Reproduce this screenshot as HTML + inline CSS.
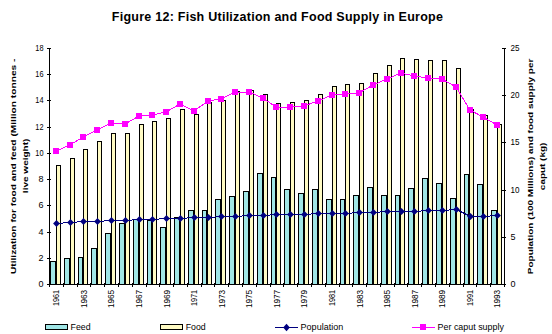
<!DOCTYPE html>
<html><head><meta charset="utf-8"><style>
html,body{margin:0;padding:0;background:#fff;width:552px;height:334px;overflow:hidden}
svg{display:block;font-family:"Liberation Sans",sans-serif}
.ax text{font-size:9px;fill:#000}
.lg{font-size:8.2px;fill:#000}
.tt{font-size:8px;font-weight:bold;fill:#000}
</style></head><body>
<svg width="552" height="334" viewBox="0 0 552 334">
<text x="277.5" y="21" text-anchor="middle" style="font-size:12.5px;font-weight:bold;letter-spacing:0.25px">Figure 12: Fish Utilization and Food Supply in Europe</text>
<g shape-rendering="crispEdges">
<rect x="50.5" y="261.5" width="5" height="23" fill="#A0E6E6" stroke="#000"/><rect x="56.5" y="165.5" width="4" height="119" fill="#FFFBC4" stroke="#000"/><rect x="64.5" y="258.5" width="5" height="26" fill="#A0E6E6" stroke="#000"/><rect x="70.5" y="158.5" width="4" height="126" fill="#FFFBC4" stroke="#000"/><rect x="78.5" y="257.5" width="4" height="27" fill="#A0E6E6" stroke="#000"/><rect x="83.5" y="149.5" width="4" height="135" fill="#FFFBC4" stroke="#000"/><rect x="91.5" y="248.5" width="5" height="36" fill="#A0E6E6" stroke="#000"/><rect x="97.5" y="141.5" width="4" height="143" fill="#FFFBC4" stroke="#000"/><rect x="105.5" y="233.5" width="5" height="51" fill="#A0E6E6" stroke="#000"/><rect x="111.5" y="133.5" width="4" height="151" fill="#FFFBC4" stroke="#000"/><rect x="119.5" y="223.5" width="5" height="61" fill="#A0E6E6" stroke="#000"/><rect x="125.5" y="133.5" width="4" height="151" fill="#FFFBC4" stroke="#000"/><rect x="133.5" y="219.5" width="5" height="65" fill="#A0E6E6" stroke="#000"/><rect x="139.5" y="124.5" width="4" height="160" fill="#FFFBC4" stroke="#000"/><rect x="147.5" y="220.5" width="4" height="64" fill="#A0E6E6" stroke="#000"/><rect x="152.5" y="121.5" width="4" height="163" fill="#FFFBC4" stroke="#000"/><rect x="160.5" y="227.5" width="5" height="57" fill="#A0E6E6" stroke="#000"/><rect x="166.5" y="118.5" width="4" height="166" fill="#FFFBC4" stroke="#000"/><rect x="174.5" y="217.5" width="5" height="67" fill="#A0E6E6" stroke="#000"/><rect x="180.5" y="109.5" width="4" height="175" fill="#FFFBC4" stroke="#000"/><rect x="188.5" y="210.5" width="5" height="74" fill="#A0E6E6" stroke="#000"/><rect x="194.5" y="114.5" width="4" height="170" fill="#FFFBC4" stroke="#000"/><rect x="202.5" y="210.5" width="4" height="74" fill="#A0E6E6" stroke="#000"/><rect x="207.5" y="102.5" width="4" height="182" fill="#FFFBC4" stroke="#000"/><rect x="215.5" y="199.5" width="5" height="85" fill="#A0E6E6" stroke="#000"/><rect x="221.5" y="100.5" width="4" height="184" fill="#FFFBC4" stroke="#000"/><rect x="229.5" y="196.5" width="5" height="88" fill="#A0E6E6" stroke="#000"/><rect x="235.5" y="91.5" width="4" height="193" fill="#FFFBC4" stroke="#000"/><rect x="243.5" y="191.5" width="5" height="93" fill="#A0E6E6" stroke="#000"/><rect x="249.5" y="90.5" width="4" height="194" fill="#FFFBC4" stroke="#000"/><rect x="257.5" y="173.5" width="5" height="111" fill="#A0E6E6" stroke="#000"/><rect x="263.5" y="94.5" width="4" height="190" fill="#FFFBC4" stroke="#000"/><rect x="271.5" y="177.5" width="4" height="107" fill="#A0E6E6" stroke="#000"/><rect x="276.5" y="103.5" width="4" height="181" fill="#FFFBC4" stroke="#000"/><rect x="284.5" y="189.5" width="5" height="95" fill="#A0E6E6" stroke="#000"/><rect x="290.5" y="102.5" width="4" height="182" fill="#FFFBC4" stroke="#000"/><rect x="298.5" y="193.5" width="5" height="91" fill="#A0E6E6" stroke="#000"/><rect x="304.5" y="100.5" width="4" height="184" fill="#FFFBC4" stroke="#000"/><rect x="312.5" y="189.5" width="5" height="95" fill="#A0E6E6" stroke="#000"/><rect x="318.5" y="94.5" width="4" height="190" fill="#FFFBC4" stroke="#000"/><rect x="326.5" y="199.5" width="5" height="85" fill="#A0E6E6" stroke="#000"/><rect x="332.5" y="86.5" width="4" height="198" fill="#FFFBC4" stroke="#000"/><rect x="340.5" y="199.5" width="4" height="85" fill="#A0E6E6" stroke="#000"/><rect x="345.5" y="84.5" width="4" height="200" fill="#FFFBC4" stroke="#000"/><rect x="353.5" y="195.5" width="5" height="89" fill="#A0E6E6" stroke="#000"/><rect x="359.5" y="83.5" width="4" height="201" fill="#FFFBC4" stroke="#000"/><rect x="367.5" y="187.5" width="5" height="97" fill="#A0E6E6" stroke="#000"/><rect x="373.5" y="73.5" width="4" height="211" fill="#FFFBC4" stroke="#000"/><rect x="381.5" y="195.5" width="5" height="89" fill="#A0E6E6" stroke="#000"/><rect x="387.5" y="65.5" width="4" height="219" fill="#FFFBC4" stroke="#000"/><rect x="395.5" y="195.5" width="4" height="89" fill="#A0E6E6" stroke="#000"/><rect x="400.5" y="58.5" width="4" height="226" fill="#FFFBC4" stroke="#000"/><rect x="408.5" y="188.5" width="5" height="96" fill="#A0E6E6" stroke="#000"/><rect x="414.5" y="59.5" width="4" height="225" fill="#FFFBC4" stroke="#000"/><rect x="422.5" y="178.5" width="5" height="106" fill="#A0E6E6" stroke="#000"/><rect x="428.5" y="60.5" width="4" height="224" fill="#FFFBC4" stroke="#000"/><rect x="436.5" y="183.5" width="5" height="101" fill="#A0E6E6" stroke="#000"/><rect x="442.5" y="60.5" width="4" height="224" fill="#FFFBC4" stroke="#000"/><rect x="450.5" y="198.5" width="5" height="86" fill="#A0E6E6" stroke="#000"/><rect x="456.5" y="68.5" width="4" height="216" fill="#FFFBC4" stroke="#000"/><rect x="464.5" y="174.5" width="4" height="110" fill="#A0E6E6" stroke="#000"/><rect x="469.5" y="109.5" width="4" height="175" fill="#FFFBC4" stroke="#000"/><rect x="477.5" y="184.5" width="5" height="100" fill="#A0E6E6" stroke="#000"/><rect x="483.5" y="115.5" width="4" height="169" fill="#FFFBC4" stroke="#000"/><rect x="491.5" y="210.5" width="5" height="74" fill="#A0E6E6" stroke="#000"/><rect x="497.5" y="124.5" width="4" height="160" fill="#FFFBC4" stroke="#000"/>
<line x1="49.5" y1="48" x2="49.5" y2="285" stroke="#000"/><line x1="504.5" y1="48" x2="504.5" y2="285" stroke="#000"/><line x1="49.0" y1="284.5" x2="505" y2="284.5" stroke="#000"/><line x1="47" y1="284.5" x2="51" y2="284.5" stroke="#000"/><line x1="47" y1="258.5" x2="51" y2="258.5" stroke="#000"/><line x1="47" y1="232.5" x2="51" y2="232.5" stroke="#000"/><line x1="47" y1="205.5" x2="51" y2="205.5" stroke="#000"/><line x1="47" y1="179.5" x2="51" y2="179.5" stroke="#000"/><line x1="47" y1="153.5" x2="51" y2="153.5" stroke="#000"/><line x1="47" y1="127.5" x2="51" y2="127.5" stroke="#000"/><line x1="47" y1="100.5" x2="51" y2="100.5" stroke="#000"/><line x1="47" y1="74.5" x2="51" y2="74.5" stroke="#000"/><line x1="47" y1="48.5" x2="51" y2="48.5" stroke="#000"/><line x1="502" y1="284.5" x2="506" y2="284.5" stroke="#000"/><line x1="502" y1="237.5" x2="506" y2="237.5" stroke="#000"/><line x1="502" y1="190.5" x2="506" y2="190.5" stroke="#000"/><line x1="502" y1="142.5" x2="506" y2="142.5" stroke="#000"/><line x1="502" y1="95.5" x2="506" y2="95.5" stroke="#000"/><line x1="502" y1="48.5" x2="506" y2="48.5" stroke="#000"/><line x1="49.5" y1="283" x2="49.5" y2="287" stroke="#000"/><line x1="63.5" y1="283" x2="63.5" y2="287" stroke="#000"/><line x1="77.5" y1="283" x2="77.5" y2="287" stroke="#000"/><line x1="90.5" y1="283" x2="90.5" y2="287" stroke="#000"/><line x1="104.5" y1="283" x2="104.5" y2="287" stroke="#000"/><line x1="118.5" y1="283" x2="118.5" y2="287" stroke="#000"/><line x1="132.5" y1="283" x2="132.5" y2="287" stroke="#000"/><line x1="146.5" y1="283" x2="146.5" y2="287" stroke="#000"/><line x1="159.5" y1="283" x2="159.5" y2="287" stroke="#000"/><line x1="173.5" y1="283" x2="173.5" y2="287" stroke="#000"/><line x1="187.5" y1="283" x2="187.5" y2="287" stroke="#000"/><line x1="201.5" y1="283" x2="201.5" y2="287" stroke="#000"/><line x1="214.5" y1="283" x2="214.5" y2="287" stroke="#000"/><line x1="228.5" y1="283" x2="228.5" y2="287" stroke="#000"/><line x1="242.5" y1="283" x2="242.5" y2="287" stroke="#000"/><line x1="256.5" y1="283" x2="256.5" y2="287" stroke="#000"/><line x1="270.5" y1="283" x2="270.5" y2="287" stroke="#000"/><line x1="283.5" y1="283" x2="283.5" y2="287" stroke="#000"/><line x1="297.5" y1="283" x2="297.5" y2="287" stroke="#000"/><line x1="311.5" y1="283" x2="311.5" y2="287" stroke="#000"/><line x1="325.5" y1="283" x2="325.5" y2="287" stroke="#000"/><line x1="339.5" y1="283" x2="339.5" y2="287" stroke="#000"/><line x1="352.5" y1="283" x2="352.5" y2="287" stroke="#000"/><line x1="366.5" y1="283" x2="366.5" y2="287" stroke="#000"/><line x1="380.5" y1="283" x2="380.5" y2="287" stroke="#000"/><line x1="394.5" y1="283" x2="394.5" y2="287" stroke="#000"/><line x1="407.5" y1="283" x2="407.5" y2="287" stroke="#000"/><line x1="421.5" y1="283" x2="421.5" y2="287" stroke="#000"/><line x1="435.5" y1="283" x2="435.5" y2="287" stroke="#000"/><line x1="449.5" y1="283" x2="449.5" y2="287" stroke="#000"/><line x1="463.5" y1="283" x2="463.5" y2="287" stroke="#000"/><line x1="476.5" y1="283" x2="476.5" y2="287" stroke="#000"/><line x1="490.5" y1="283" x2="490.5" y2="287" stroke="#000"/><line x1="504.5" y1="283" x2="504.5" y2="287" stroke="#000"/>
</g>
<g><polyline points="56,151 70,145 83,137 97,130 111,123 125,124 139,116 152,115 166,112 180,104 194,111 208,101 221,99 235,92 249,92 263,98 276,107 290,107 304,106 318,101 332,95 345,94 359,93 373,85 387,79 401,73 414,76 428,78 442,79 456,87 470,110 483,117 497,125" fill="none" stroke="#FF00FF" stroke-width="1" shape-rendering="crispEdges"/><polyline points="56.5,223.5 70.5,222.5 83.5,221.5 97.5,221.5 111.5,220.5 125.5,220.5 139.5,219.5 152.5,219.5 166.5,218.5 180.5,218.5 194.5,217.5 208.5,217.5 221.5,216.5 235.5,216.5 249.5,215.5 263.5,215.5 276.5,214.5 290.5,214.5 304.5,214.5 318.5,213.5 332.5,213.5 345.5,213.5 359.5,212.5 373.5,212.5 387.5,211.5 401.5,211.5 414.5,211.5 428.5,210.5 442.5,210.5 456.5,209.5 470.5,216.5 483.5,216.5 497.5,215.5" fill="none" stroke="#000080" stroke-width="1" shape-rendering="crispEdges"/><rect x="53" y="148" width="6" height="6" fill="#FF00FF" shape-rendering="crispEdges"/><path d="M56.5 220.0L59.9 223.5L56.5 227.0L53.1 223.5Z" fill="#000080"/><rect x="67" y="142" width="6" height="6" fill="#FF00FF" shape-rendering="crispEdges"/><path d="M70.5 219.0L73.9 222.5L70.5 226.0L67.1 222.5Z" fill="#000080"/><rect x="80" y="134" width="6" height="6" fill="#FF00FF" shape-rendering="crispEdges"/><path d="M83.5 218.0L86.9 221.5L83.5 225.0L80.1 221.5Z" fill="#000080"/><rect x="94" y="127" width="6" height="6" fill="#FF00FF" shape-rendering="crispEdges"/><path d="M97.5 218.0L100.9 221.5L97.5 225.0L94.1 221.5Z" fill="#000080"/><rect x="108" y="120" width="6" height="6" fill="#FF00FF" shape-rendering="crispEdges"/><path d="M111.5 217.0L114.9 220.5L111.5 224.0L108.1 220.5Z" fill="#000080"/><rect x="122" y="121" width="6" height="6" fill="#FF00FF" shape-rendering="crispEdges"/><path d="M125.5 217.0L128.9 220.5L125.5 224.0L122.1 220.5Z" fill="#000080"/><rect x="136" y="113" width="6" height="6" fill="#FF00FF" shape-rendering="crispEdges"/><path d="M139.5 216.0L142.9 219.5L139.5 223.0L136.1 219.5Z" fill="#000080"/><rect x="149" y="112" width="6" height="6" fill="#FF00FF" shape-rendering="crispEdges"/><path d="M152.5 216.0L155.9 219.5L152.5 223.0L149.1 219.5Z" fill="#000080"/><rect x="163" y="109" width="6" height="6" fill="#FF00FF" shape-rendering="crispEdges"/><path d="M166.5 215.0L169.9 218.5L166.5 222.0L163.1 218.5Z" fill="#000080"/><rect x="177" y="101" width="6" height="6" fill="#FF00FF" shape-rendering="crispEdges"/><path d="M180.5 215.0L183.9 218.5L180.5 222.0L177.1 218.5Z" fill="#000080"/><rect x="191" y="108" width="6" height="6" fill="#FF00FF" shape-rendering="crispEdges"/><path d="M194.5 214.0L197.9 217.5L194.5 221.0L191.1 217.5Z" fill="#000080"/><rect x="205" y="98" width="6" height="6" fill="#FF00FF" shape-rendering="crispEdges"/><path d="M208.5 214.0L211.9 217.5L208.5 221.0L205.1 217.5Z" fill="#000080"/><rect x="218" y="96" width="6" height="6" fill="#FF00FF" shape-rendering="crispEdges"/><path d="M221.5 213.0L224.9 216.5L221.5 220.0L218.1 216.5Z" fill="#000080"/><rect x="232" y="89" width="6" height="6" fill="#FF00FF" shape-rendering="crispEdges"/><path d="M235.5 213.0L238.9 216.5L235.5 220.0L232.1 216.5Z" fill="#000080"/><rect x="246" y="89" width="6" height="6" fill="#FF00FF" shape-rendering="crispEdges"/><path d="M249.5 212.0L252.9 215.5L249.5 219.0L246.1 215.5Z" fill="#000080"/><rect x="260" y="95" width="6" height="6" fill="#FF00FF" shape-rendering="crispEdges"/><path d="M263.5 212.0L266.9 215.5L263.5 219.0L260.1 215.5Z" fill="#000080"/><rect x="273" y="104" width="6" height="6" fill="#FF00FF" shape-rendering="crispEdges"/><path d="M276.5 211.0L279.9 214.5L276.5 218.0L273.1 214.5Z" fill="#000080"/><rect x="287" y="104" width="6" height="6" fill="#FF00FF" shape-rendering="crispEdges"/><path d="M290.5 211.0L293.9 214.5L290.5 218.0L287.1 214.5Z" fill="#000080"/><rect x="301" y="103" width="6" height="6" fill="#FF00FF" shape-rendering="crispEdges"/><path d="M304.5 211.0L307.9 214.5L304.5 218.0L301.1 214.5Z" fill="#000080"/><rect x="315" y="98" width="6" height="6" fill="#FF00FF" shape-rendering="crispEdges"/><path d="M318.5 210.0L321.9 213.5L318.5 217.0L315.1 213.5Z" fill="#000080"/><rect x="329" y="92" width="6" height="6" fill="#FF00FF" shape-rendering="crispEdges"/><path d="M332.5 210.0L335.9 213.5L332.5 217.0L329.1 213.5Z" fill="#000080"/><rect x="342" y="91" width="6" height="6" fill="#FF00FF" shape-rendering="crispEdges"/><path d="M345.5 210.0L348.9 213.5L345.5 217.0L342.1 213.5Z" fill="#000080"/><rect x="356" y="90" width="6" height="6" fill="#FF00FF" shape-rendering="crispEdges"/><path d="M359.5 209.0L362.9 212.5L359.5 216.0L356.1 212.5Z" fill="#000080"/><rect x="370" y="82" width="6" height="6" fill="#FF00FF" shape-rendering="crispEdges"/><path d="M373.5 209.0L376.9 212.5L373.5 216.0L370.1 212.5Z" fill="#000080"/><rect x="384" y="76" width="6" height="6" fill="#FF00FF" shape-rendering="crispEdges"/><path d="M387.5 208.0L390.9 211.5L387.5 215.0L384.1 211.5Z" fill="#000080"/><rect x="398" y="70" width="6" height="6" fill="#FF00FF" shape-rendering="crispEdges"/><path d="M401.5 208.0L404.9 211.5L401.5 215.0L398.1 211.5Z" fill="#000080"/><rect x="411" y="73" width="6" height="6" fill="#FF00FF" shape-rendering="crispEdges"/><path d="M414.5 208.0L417.9 211.5L414.5 215.0L411.1 211.5Z" fill="#000080"/><rect x="425" y="75" width="6" height="6" fill="#FF00FF" shape-rendering="crispEdges"/><path d="M428.5 207.0L431.9 210.5L428.5 214.0L425.1 210.5Z" fill="#000080"/><rect x="439" y="76" width="6" height="6" fill="#FF00FF" shape-rendering="crispEdges"/><path d="M442.5 207.0L445.9 210.5L442.5 214.0L439.1 210.5Z" fill="#000080"/><rect x="453" y="84" width="6" height="6" fill="#FF00FF" shape-rendering="crispEdges"/><path d="M456.5 206.0L459.9 209.5L456.5 213.0L453.1 209.5Z" fill="#000080"/><rect x="467" y="107" width="6" height="6" fill="#FF00FF" shape-rendering="crispEdges"/><path d="M470.5 213.0L473.9 216.5L470.5 220.0L467.1 216.5Z" fill="#000080"/><rect x="480" y="114" width="6" height="6" fill="#FF00FF" shape-rendering="crispEdges"/><path d="M483.5 213.0L486.9 216.5L483.5 220.0L480.1 216.5Z" fill="#000080"/><rect x="494" y="122" width="6" height="6" fill="#FF00FF" shape-rendering="crispEdges"/><path d="M497.5 212.0L500.9 215.5L497.5 219.0L494.1 215.5Z" fill="#000080"/></g>
<g class="ax"><text x="43.5" y="287" text-anchor="end">0</text><text x="43.5" y="261" text-anchor="end">2</text><text x="43.5" y="235" text-anchor="end">4</text><text x="43.5" y="208" text-anchor="end">6</text><text x="43.5" y="182" text-anchor="end">8</text><text x="43.5" y="156" text-anchor="end" textLength="8.2" lengthAdjust="spacingAndGlyphs">10</text><text x="43.5" y="130" text-anchor="end" textLength="8.2" lengthAdjust="spacingAndGlyphs">12</text><text x="43.5" y="103" text-anchor="end" textLength="8.2" lengthAdjust="spacingAndGlyphs">14</text><text x="43.5" y="77" text-anchor="end" textLength="8.2" lengthAdjust="spacingAndGlyphs">16</text><text x="43.5" y="51" text-anchor="end" textLength="8.2" lengthAdjust="spacingAndGlyphs">18</text><text x="510.5" y="287">0</text><text x="510.5" y="240">5</text><text x="510.5" y="193" textLength="9" lengthAdjust="spacingAndGlyphs">10</text><text x="510.5" y="145" textLength="9" lengthAdjust="spacingAndGlyphs">15</text><text x="510.5" y="98" textLength="9" lengthAdjust="spacingAndGlyphs">20</text><text x="510.5" y="51" textLength="9" lengthAdjust="spacingAndGlyphs">25</text><text transform="translate(59.2,289.8) rotate(-90)" text-anchor="end" textLength="16.3" lengthAdjust="spacingAndGlyphs">1961</text><text transform="translate(86.8,289.8) rotate(-90)" text-anchor="end" textLength="18.3" lengthAdjust="spacingAndGlyphs">1963</text><text transform="translate(114.3,289.8) rotate(-90)" text-anchor="end" textLength="18.3" lengthAdjust="spacingAndGlyphs">1965</text><text transform="translate(141.9,289.8) rotate(-90)" text-anchor="end" textLength="18.3" lengthAdjust="spacingAndGlyphs">1967</text><text transform="translate(169.5,289.8) rotate(-90)" text-anchor="end" textLength="18.3" lengthAdjust="spacingAndGlyphs">1969</text><text transform="translate(197.1,289.8) rotate(-90)" text-anchor="end" textLength="16.3" lengthAdjust="spacingAndGlyphs">1971</text><text transform="translate(224.6,289.8) rotate(-90)" text-anchor="end" textLength="18.3" lengthAdjust="spacingAndGlyphs">1973</text><text transform="translate(252.2,289.8) rotate(-90)" text-anchor="end" textLength="18.3" lengthAdjust="spacingAndGlyphs">1975</text><text transform="translate(279.8,289.8) rotate(-90)" text-anchor="end" textLength="18.3" lengthAdjust="spacingAndGlyphs">1977</text><text transform="translate(307.4,289.8) rotate(-90)" text-anchor="end" textLength="18.3" lengthAdjust="spacingAndGlyphs">1979</text><text transform="translate(335.0,289.8) rotate(-90)" text-anchor="end" textLength="16.3" lengthAdjust="spacingAndGlyphs">1981</text><text transform="translate(362.5,289.8) rotate(-90)" text-anchor="end" textLength="18.3" lengthAdjust="spacingAndGlyphs">1983</text><text transform="translate(390.1,289.8) rotate(-90)" text-anchor="end" textLength="18.3" lengthAdjust="spacingAndGlyphs">1985</text><text transform="translate(417.7,289.8) rotate(-90)" text-anchor="end" textLength="18.3" lengthAdjust="spacingAndGlyphs">1987</text><text transform="translate(445.3,289.8) rotate(-90)" text-anchor="end" textLength="18.3" lengthAdjust="spacingAndGlyphs">1989</text><text transform="translate(472.8,289.8) rotate(-90)" text-anchor="end" textLength="16.3" lengthAdjust="spacingAndGlyphs">1991</text><text transform="translate(500.4,289.8) rotate(-90)" text-anchor="end" textLength="18.3" lengthAdjust="spacingAndGlyphs">1993</text></g>
<g shape-rendering="crispEdges">
<rect x="45.5" y="324.5" width="22" height="5" fill="#A0E6E6" stroke="#000"/>
<text x="70.6" y="330" class="lg" textLength="20" lengthAdjust="spacingAndGlyphs">Feed</text>
<rect x="160.5" y="324.5" width="22" height="5" fill="#FFFBC4" stroke="#000"/>
<text x="185.7" y="330" class="lg" textLength="20" lengthAdjust="spacingAndGlyphs">Food</text>
<line x1="275" y1="327.5" x2="298" y2="327.5" stroke="#000080" stroke-width="1"/>
<path d="M286.5 323.8L289.8 327.5L286.5 331.2L283.2 327.5Z" fill="#000080" shape-rendering="auto"/>
<text x="300.6" y="330" class="lg" textLength="42.6" lengthAdjust="spacingAndGlyphs">Population</text>
<line x1="412" y1="327.5" x2="435" y2="327.5" stroke="#FF00FF" stroke-width="1"/>
<rect x="420" y="324" width="6" height="6" fill="#FF00FF"/>
<text x="437.6" y="330" class="lg" textLength="66.3" lengthAdjust="spacingAndGlyphs">Per caput supply</text>
</g>
<text class="tt" transform="translate(15.6,166.3) rotate(-90)" text-anchor="middle" textLength="215.5" lengthAdjust="spacingAndGlyphs">Utilization for food and feed (Million tonnes -</text>
<text class="tt" transform="translate(27.6,165.9) rotate(-90)" text-anchor="middle" textLength="54.5" lengthAdjust="spacingAndGlyphs">live weight)</text>
<text class="tt" transform="translate(532.8,166.4) rotate(-90)" text-anchor="middle" textLength="215.5" lengthAdjust="spacingAndGlyphs">Population (100 Millions) and food supply per</text>
<text class="tt" transform="translate(545.1,166.4) rotate(-90)" text-anchor="middle" textLength="47.5" lengthAdjust="spacingAndGlyphs">caput (kg)</text>
</svg>
</body></html>
